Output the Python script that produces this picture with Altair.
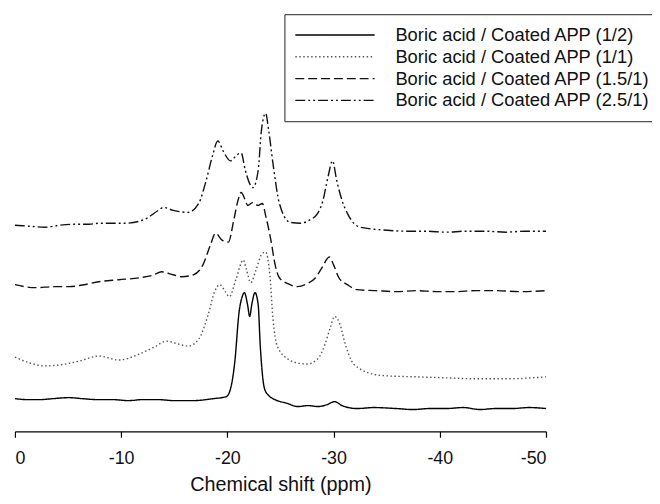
import altair as alt
import pandas as pd

series_names = [
    "Boric acid / Coated APP (1/2)",
    "Boric acid / Coated APP (1/1)",
    "Boric acid / Coated APP (1.5/1)",
    "Boric acid / Coated APP (2.5/1)",
]

# Chemical shift (ppm) and stacked intensity (arbitrary units)
ppm_a = [0, -1.2, -2.3, -3.6, -5.1, -6.3, -7.9, -9.2, -10.7, -12.0, -13.5, -15.0, -16.8,
         -18.7, -19.9, -20.3, -20.7, -21.1, -21.4, -21.6, -21.9, -22.1, -22.3, -22.6,
         -22.9, -23.1, -23.5, -23.9, -24.3, -25.7, -26.6, -27.6, -28.5, -29.4, -30.1,
         -30.8, -32.2, -33.8, -35.9, -37.5, -39.0, -40.6, -42.2, -43.8, -45.2, -46.8,
         -48.4, -50]
int_a = [33, 32, 32, 33, 34, 33, 32, 32, 31, 32, 32, 31, 31,
         33, 35, 43, 70, 120, 136, 140, 128, 116, 128, 140,
         128, 86, 43, 36, 33, 28, 25, 26, 25, 27, 30,
         26, 23, 24, 23, 22, 23, 23, 24, 22, 23, 23,
         24, 23]

ppm_b = [0, -1.4, -2.8, -4.2, -6.1, -7.9, -9.8, -11.7, -13.1, -14.3, -15.4, -16.3, -17.3,
         -18.2, -18.8, -19.3, -19.8, -20.2, -20.8, -21.5, -21.8, -22.2, -22.7, -23.2,
         -23.6, -24.0, -24.3, -24.7, -25.7, -26.6, -27.5, -28.5, -29.2, -29.7, -30.1,
         -30.6, -31.1, -31.7, -32.5, -33.6, -35.0, -37.8, -40.6, -43.4, -46.2, -50]
int_b = [75, 69, 66, 67, 71, 76, 72, 78, 85, 91, 88, 86, 93,
         118, 141, 148, 141, 136, 153, 173, 163, 150, 163, 178,
         181, 158, 113, 86, 73, 69, 68, 73, 88, 105, 116,
         108, 88, 71, 63, 58, 56, 55, 54, 53, 53, 55]

ppm_c = [0, -1.9, -3.7, -5.1, -6.5, -7.9, -9.8, -11.7, -13.1, -13.8, -14.9, -15.7, -16.8,
         -17.7, -18.4, -18.9, -19.5, -20.1, -20.6, -21.0, -21.3, -21.7, -21.9, -22.4,
         -22.9, -23.3, -23.6, -24.1, -24.5, -24.9, -25.7, -26.6, -27.5, -28.3, -28.9,
         -29.6, -30.0, -30.5, -31.3, -32.2, -34.0, -36.0, -37.8, -39.7, -41.5, -43.4,
         -45.2, -47.5, -50]
int_c = [148, 145, 146, 146, 148, 151, 153, 155, 158, 161, 158, 156, 158,
         168, 188, 200, 193, 191, 213, 233, 241, 233, 228, 231,
         228, 230, 218, 193, 168, 155, 149, 146, 149, 155, 165,
         176, 168, 155, 148, 143, 142, 141, 142, 141, 141, 142,
         142, 141, 142]

ppm_d = [0, -1.4, -2.8, -4.2, -5.6, -7.0, -7.9, -9.3, -10.3, -11.7, -12.4, -13.5, -14.0,
         -14.9, -16.3, -17.3, -18.0, -18.6, -19.1, -19.6, -20.3, -20.9, -21.3, -21.7,
         -22.4, -22.9, -23.2, -23.6, -23.9, -24.3, -24.9, -25.9, -26.9, -27.7, -28.5,
         -29.0, -29.5, -29.9, -30.3, -30.8, -31.3, -32.5, -35.0, -36.8, -38.7, -40.6,
         -42.4, -44.3, -46.2, -48.0, -50]
int_d = [208, 207, 206, 208, 209, 209, 210, 210, 210, 212, 215, 223, 226,
         223, 221, 230, 253, 278, 293, 283, 273, 279, 281, 263,
         246, 263, 303, 321, 303, 270, 230, 211, 210, 213, 220,
         233, 258, 273, 253, 233, 220, 206, 203, 202, 202, 201,
         202, 202, 201, 202, 202]

tick_values = [0, -10, -20, -30, -40, -50]

rows = []
for name, xs, ys in zip(series_names, [ppm_a, ppm_b, ppm_c, ppm_d],
                        [int_a, int_b, int_c, int_d]):
    for i, (x, y) in enumerate(zip(xs, ys)):
        rows.append({"series": name, "ppm": x, "intensity": y, "order": i})
df = pd.DataFrame(rows)

legend = alt.Legend(
    title=None,
    orient="none",
    legendX=272,
    legendY=4,
    symbolType="stroke",
    symbolSize=6400,
    symbolStrokeWidth=1.4,
    labelFont="Liberation Sans",
    labelFontSize=18.5,
    labelColor="#111111",
    labelOffset=20,
    labelLimit=0,
    padding=10,
    rowPadding=0,
    clipHeight=22,
    strokeColor="#222222",
    fillColor="white",
)

chart = alt.Chart(df).mark_line(interpolate="monotone", strokeWidth=1.4).encode(
    x=alt.X(
        "ppm:Q",
        scale=alt.Scale(domain=[0, -50], nice=False, zero=False),
        axis=alt.Axis(
            values=tick_values,
            labelExpr="'' + datum.value",
            title="Chemical shift (ppm)",
            grid=False,
            tickSize=6,
            labelPadding=12,
            titlePadding=8,
            labelFontSize=18,
            titleFontSize=20,
            titleFontWeight="normal",
            labelFont="Liberation Sans",
            titleFont="Liberation Sans",
            domainColor="black",
            tickColor="black",
            labelColor="#111111",
            titleColor="#111111",
            domainWidth=1.2,
            tickWidth=1.2,
        ),
    ),
    y=alt.Y("intensity:Q", scale=alt.Scale(domain=[0, 425], nice=False), axis=None),
    order="order:Q",
    strokeDash=alt.StrokeDash(
        "series:N",
        scale=alt.Scale(domain=series_names,
                        range=[[1, 0], [1.5, 2.5], [9, 4], [10, 3, 2, 3, 2, 3]]),
        legend=legend,
    ),
    color=alt.Color(
        "series:N",
        scale=alt.Scale(domain=series_names,
                        range=["#000000", "#555555", "#111111", "#111111"]),
        legend=legend,
    ),
).properties(
    width=536,
    height=425,
    autosize=alt.AutoSizeParams(type="none"),
    padding={"left": 7, "top": 0, "right": 107, "bottom": 63},
).configure_view(stroke=None)

chart.save("out.html", embed_options={"renderer": "svg", "actions": False})
